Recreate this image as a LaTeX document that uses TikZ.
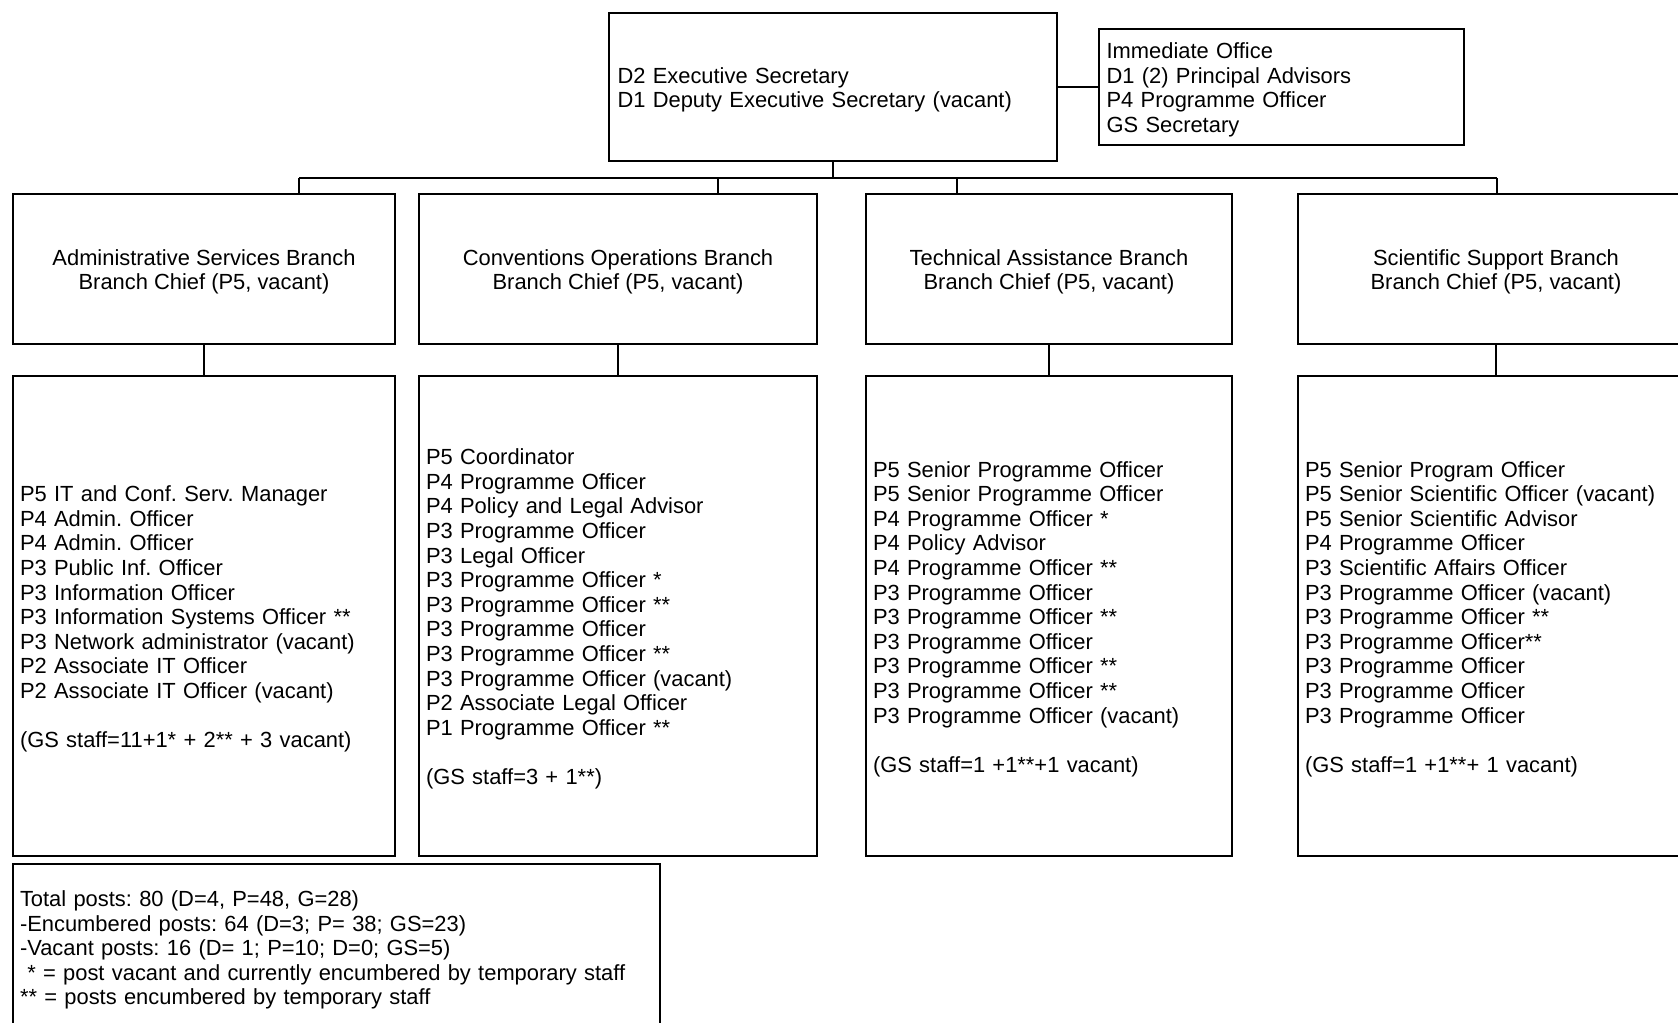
\documentclass[tikz,border=0pt]{standalone}
\usepackage{fontspec}
\setmainfont{Liberation Sans}
\frenchspacing
\newcommand{\fl}{\rule{0pt}{10.9pt}}
\begin{document}
\begin{tikzpicture}[x=0.5pt,y=-0.5pt,
  every node/.style={font=\fontsize{10.95pt}{12.3pt}\selectfont\frenchspacing},
  box/.style={draw=black, line width=0.55pt, inner ysep=0pt},
  lbox/.style={box, align=left, inner xsep=3.5pt},
  cbox/.style={box, align=center},
  conn/.style={draw=black, line width=0.55pt}]
\clip (0,0) rectangle (1678,1023);
\fill[white] (0,0) rectangle (1678,1023);

% top
\node[lbox, inner xsep=4.25pt, text width=215.5pt, minimum height=74pt] (es) at (833,87)
  {\fl D2 Executive Secretary\\D1 Deputy Executive Secretary (vacant)};
\node[lbox, inner xsep=3.8pt, text width=174.9pt, minimum height=58pt] (io) at (1281.5,87)
  {\fl Immediate Office\\D1 (2) Principal Advisors\\P4 Programme Officer\\GS Secretary};

% branches
\node[cbox, minimum width=191pt, minimum height=75pt] (b1) at (204,269)
  {\fl Administrative Services Branch\\Branch Chief (P5, vacant)};
\node[cbox, minimum width=199pt, minimum height=75pt] (b2) at (618,269)
  {\fl Conventions Operations Branch\\Branch Chief (P5, vacant)};
\node[cbox, minimum width=183pt, minimum height=75pt] (b3) at (1049,269)
  {\fl Technical Assistance Branch\\Branch Chief (P5, vacant)};
\node[cbox, minimum width=198pt, minimum height=75pt] (b4) at (1496,269)
  {\fl Scientific Support Branch\\Branch Chief (P5, vacant)};

% lower lists
\node[lbox, text width=184pt, minimum height=240pt] (l1) at (204,616)
  {\fl P5 IT and Conf. Serv. Manager\\P4 Admin. Officer\\P4 Admin. Officer\\P3 Public Inf. Officer\\P3 Information Officer\\P3 Information Systems Officer **\\P3 Network administrator (vacant)\\P2 Associate IT Officer\\P2 Associate IT Officer (vacant)\\[12.3pt](GS staff=11+1* + 2** + 3 vacant)};
\node[lbox, text width=192pt, minimum height=240pt] (l2) at (618,616)
  {\fl P5 Coordinator\\P4 Programme Officer\\P4 Policy and Legal Advisor\\P3 Programme Officer\\P3 Legal Officer\\P3 Programme Officer *\\P3 Programme Officer **\\P3 Programme Officer\\P3 Programme Officer **\\P3 Programme Officer (vacant)\\P2 Associate Legal Officer\\P1 Programme Officer **\\[12.3pt](GS staff=3 + 1**)};
\node[lbox, text width=176pt, minimum height=240pt] (l3) at (1049,616)
  {\fl P5 Senior Programme Officer\\P5 Senior Programme Officer\\P4 Programme Officer *\\P4 Policy Advisor\\P4 Programme Officer **\\P3 Programme Officer\\P3 Programme Officer **\\P3 Programme Officer\\P3 Programme Officer **\\P3 Programme Officer **\\P3 Programme Officer (vacant)\\[12.3pt](GS staff=1 +1**+1 vacant)};
\node[lbox, text width=191pt, minimum height=240pt] (l4) at (1496,616)
  {\fl P5 Senior Program Officer\\P5 Senior Scientific Officer (vacant)\\P5 Senior Scientific Advisor\\P4 Programme Officer\\P3 Scientific Affairs Officer\\P3 Programme Officer (vacant)\\P3 Programme Officer **\\P3 Programme Officer**\\P3 Programme Officer\\P3 Programme Officer\\P3 Programme Officer\\[12.3pt](GS staff=1 +1**+ 1 vacant)};

% notes
\node[lbox, text width=316.5pt, minimum height=83pt] (notes) at (336.5,947)
  {\fl Total posts: 80 (D=4, P=48, G=28)\\-Encumbered posts: 64 (D=3; P= 38; GS=23)\\-Vacant posts: 16 (D= 1; P=10; D=0; GS=5)\\{}\ * = post vacant and currently encumbered by temporary staff\\{}** = posts encumbered by temporary staff};

% connectors
\coordinate (busL) at (299,178);
\coordinate (busR) at (1497,178);
\coordinate (d2) at (718,178);
\coordinate (d3) at (957,178);
\draw[conn] (es.east) -- (io.west);
\draw[conn] (es.south) -- (es.south |- busL);
\draw[conn] (busL) -- (busR);
\draw[conn] (busL) -- (busL |- b1.north);
\draw[conn] (d2) -- (d2 |- b2.north);
\draw[conn] (d3) -- (d3 |- b3.north);
\draw[conn] (busR) -- (busR |- b4.north);
\draw[conn] (b1.south) -- (l1.north);
\draw[conn] (b2.south) -- (l2.north);
\draw[conn] (b3.south) -- (l3.north);
\draw[conn] (b4.south) -- (l4.north);
\end{tikzpicture}
\end{document}
